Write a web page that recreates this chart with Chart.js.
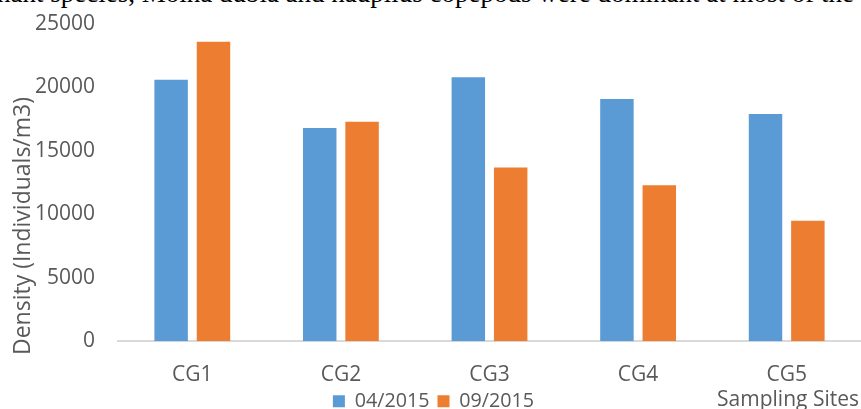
<!DOCTYPE html>
<html>
<head>
<meta charset="utf-8">
<script src="https://cdn.jsdelivr.net/npm/chart.js@4.4.1/dist/chart.umd.min.js"></script>
<style>
  html, body { margin: 0; padding: 0; background: #fff; overflow: hidden; }
  #wrap { position: relative; width: 861px; height: 409px; overflow: hidden; }
  #note {
    position: absolute; right: 7px; top: -20px;
    font-family: "Liberation Serif", serif; font-size: 27px; line-height: 27px;
    color: #000; white-space: nowrap;
  }
  canvas { position: absolute; left: 0; top: 0; }
</style>
</head>
<body>
<div id="wrap">
  <div id="note">dominant species, Moina dubia and nauplius copepods were dominant at most of the</div>
  <canvas id="bar-chartcanvas" width="861" height="409"></canvas>
</div>
<script>
// categories and series
var sites = ["CG1", "CG2", "CG3", "CG4", "CG5"];
var april2015 = [20600, 16800, 20800, 19100, 17900];
var sept2015 = [23600, 17300, 13700, 12300, 9500];
var yTicks = [0, 5000, 10000, 15000, 20000, 25000];

var textColor = "#595959";
var fontFamily = "'Open Sans', sans-serif";

// axis titles drawn as text where the original puts them
var axisTitles = {
    id: "axisTitles",
    afterDraw: function(chart) {
        var ctx = chart.ctx;
        ctx.save();
        ctx.fillStyle = textColor;
        ctx.font = "23px " + fontFamily;
        ctx.textBaseline = "middle";
        ctx.textAlign = "center";
        ctx.translate(23, 226);
        ctx.rotate(-Math.PI / 2);
        ctx.fillText("Density (Individuals/m3)", 0, 0);
        ctx.restore();

        ctx.save();
        ctx.fillStyle = textColor;
        ctx.font = "21px " + fontFamily;
        ctx.textAlign = "right";
        ctx.textBaseline = "alphabetic";
        ctx.fillText("Sampling Sites", 859, 406);
        ctx.restore();
    }
};

var ctx = document.getElementById("bar-chartcanvas");

var chart = new Chart(ctx, {
    type: "bar",
    data: {
        labels: sites,
        datasets: [
            {
                label: "04/2015",
                data: april2015,
                backgroundColor: "#5b9bd5",
                barPercentage: 0.79,
                categoryPercentage: 0.57
            },
            {
                label: "09/2015",
                data: sept2015,
                backgroundColor: "#ed7d31",
                barPercentage: 0.79,
                categoryPercentage: 0.57
            }
        ]
    },
    options: {
        responsive: false,
        animation: false,
        layout: {
            padding: { left: 0, right: -6, top: 24, bottom: -12 }
        },
        plugins: {
            legend: {
                position: "bottom",
                labels: {
                    boxWidth: 12,
                    boxHeight: 12,
                    padding: 8,
                    color: textColor,
                    font: { family: fontFamily, size: 19.7 }
                }
            },
            tooltip: { enabled: false }
        },
        scales: {
            x: {
                grid: { display: false, drawTicks: false },
                border: { display: true, color: "#d9d9d9", width: 2 },
                ticks: {
                    color: textColor,
                    padding: 21,
                    font: { family: fontFamily, size: 21 }
                },
                afterFit: function(scale) { scale.height = 42; }
            },
            y: {
                min: 0,
                max: 25000,
                afterBuildTicks: function(axis) {
                    axis.ticks = yTicks.map(function(v) { return { value: v }; });
                },
                grid: { display: false, drawTicks: false },
                border: { display: false },
                ticks: {
                    color: textColor,
                    padding: 23,
                    font: { family: fontFamily, size: 21 },
                    callback: function(v) { return v; }
                },
                afterFit: function(scale) {
                    scale.width = 118;
                    scale.paddingTop = 0;
                }
            }
        }
    },
    plugins: [axisTitles]
});
</script>
</body>
</html>
